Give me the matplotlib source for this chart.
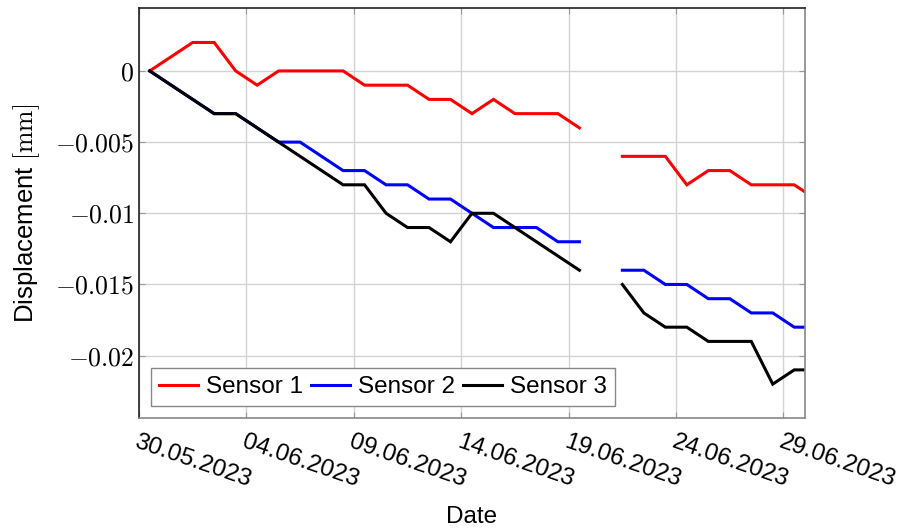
import numpy as np
import matplotlib
matplotlib.use("Agg")
import matplotlib.pyplot as plt
import matplotlib.dates as mdates
from matplotlib.ticker import FuncFormatter, FixedLocator
import datetime as dt

plt.rcParams["font.family"] = ["Liberation Sans", "DejaVu Sans"]
plt.rcParams["mathtext.fontset"] = "cm"

# Daily readings taken at noon, starting 30.05.2023 (None = no reading)
start = dt.datetime(2023, 5, 30, 12)
n_days = 32
sensor1 = [0, 0.001, 0.002, 0.002, 0, -0.001, 0, 0, 0, 0, -0.001,
           -0.001, -0.001, -0.002, -0.002, -0.003, -0.002, -0.003, -0.003, -0.003, -0.004,
           None, -0.006, -0.006, -0.006, -0.008, -0.007, -0.007, -0.008, -0.008, -0.008, -0.009]
sensor2 = [0, -0.001, -0.002, -0.003, -0.003, -0.004, -0.005, -0.005, -0.006, -0.007, -0.007,
           -0.008, -0.008, -0.009, -0.009, -0.010, -0.011, -0.011, -0.011, -0.012, -0.012,
           None, -0.014, -0.014, -0.015, -0.015, -0.016, -0.016, -0.017, -0.017, -0.018, -0.018]
sensor3 = [0, -0.001, -0.002, -0.003, -0.003, -0.004, -0.005, -0.006, -0.007, -0.008, -0.008,
           -0.010, -0.011, -0.011, -0.012, -0.010, -0.010, -0.011, -0.012, -0.013, -0.014,
           None, -0.015, -0.017, -0.018, -0.018, -0.019, -0.019, -0.019, -0.022, -0.021, -0.021]
labels = ["Sensor 1", "Sensor 2", "Sensor 3"]
colors = ["#ff0000", "#0000ff", "#000000"]
tick_dates = ["30.05.2023", "04.06.2023", "09.06.2023", "14.06.2023",
              "19.06.2023", "24.06.2023", "29.06.2023"]

dates = [start + dt.timedelta(days=i) for i in range(n_days)]


def as_array(vals):
    return np.array([np.nan if v is None else v for v in vals], dtype=float)


fig = plt.figure(figsize=(9.06, 5.28), dpi=100)
ax = fig.add_axes([0.1534, 0.2078, 0.8885 - 0.1534, 0.9843 - 0.2078])

for vals, lab, col in zip([sensor1, sensor2, sensor3], labels, colors):
    ax.plot(dates, as_array(vals), color=col, lw=2.2, label=lab, solid_joinstyle="miter")

ax.set_xlim(dt.datetime(2023, 5, 30), dt.datetime(2023, 6, 30))
ax.set_ylim(-0.0244, 0.0044)

tick_pos = [mdates.date2num(dt.datetime.strptime(s, "%d.%m.%Y")) for s in tick_dates]
ax.xaxis.set_major_locator(FixedLocator(tick_pos))
ax.set_xticklabels(tick_dates, rotation=-19, rotation_mode="anchor",
                   ha="left", va="top", fontsize=17.5)

ax.set_yticks([0, -0.005, -0.01, -0.015, -0.02])
ax.yaxis.set_major_formatter(FuncFormatter(lambda v, p: "$0$" if abs(v) < 1e-12 else f"${v:g}$"))
ax.tick_params(axis="y", labelsize=18.5)

ax.grid(True, color="#d3d3d3", lw=1.0)
ax.set_axisbelow(True)
ax.tick_params(direction="in", length=4, color="#999999", top=True, right=True)
ax.tick_params(axis="x", pad=9)

for side in ["left", "top"]:
    ax.spines[side].set_color("#222222")
for side in ["right", "bottom"]:
    ax.spines[side].set_color("#888888")
for s in ax.spines.values():
    s.set_linewidth(1.2)

ax.set_ylabel(r"Displacement $[\mathrm{mm}]$", fontsize=18.5)
ax.yaxis.set_label_coords(-0.145, 0.5)
ax.set_xlabel("Date", fontsize=17.5)
ax.xaxis.set_label_coords(0.5, -0.215)

leg = ax.legend(loc="lower left", ncol=3, fontsize=17.5, frameon=True, fancybox=False,
                edgecolor="#888888", framealpha=1, handlelength=1.6, handletextpad=0.33,
                columnspacing=0.33, borderpad=0.33, borderaxespad=0.5)
leg.get_frame().set_linewidth(1.0)

fig.savefig("out.png", dpi=100)
